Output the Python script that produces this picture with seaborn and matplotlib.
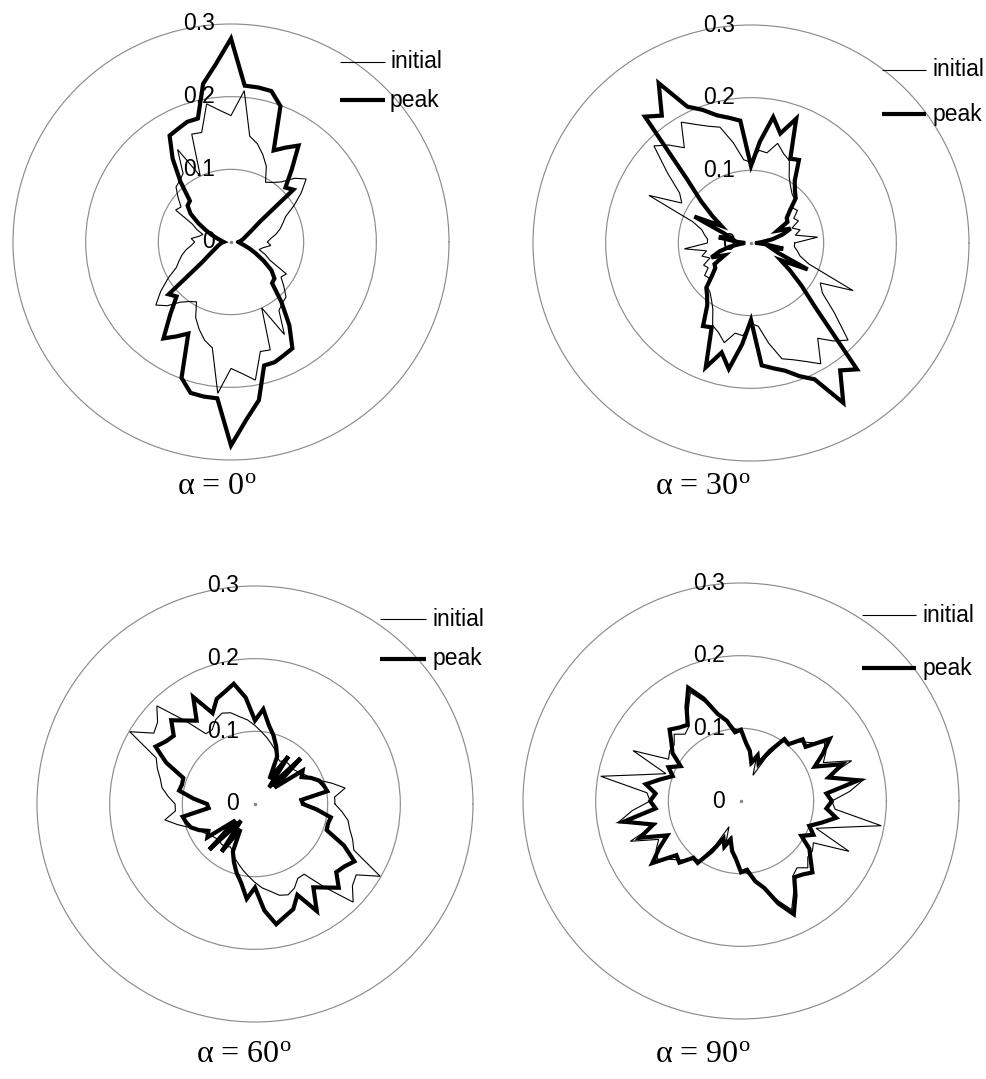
import numpy as np
import pandas as pd
import matplotlib
matplotlib.use("Agg")
import matplotlib.pyplot as plt
from matplotlib.lines import Line2D
import seaborn as sns

# Orientation distributions (axial data, 0..175 deg in 5 deg steps; the
# distribution repeats every 180 deg).
angles_half = list(range(0, 180, 5))

initial_00 = [.050, .055, .063, .070, .076, .083, .100, .118, .135, .124, .108, .100,
              .095, .115, .128, .140, .148, .209, .174, .182, .193, .156, .158, .100,
              .147, .115, .110, .107, .095, .084, .088, .059, .050, .040, .045, .055]
peak_00 = [.010, .013, .015, .018, .021, .026, .034, .048, .112, .106, .130, .162,
           .150, .139, .199, .215, .216, .216, .280, .245, .221, .176, .176, .172,
           .169, .140, .108, .080, .078, .068, .052, .038, .028, .020, .015, .012]

initial_30 = [.060, .092, .062, .070, .060, .072, .068, .078, .075, .085, .088, .095,
              .105, .125, .131, .142, .126, .128, .111, .115, .140, .165, .171, .180,
              .192, .160, .176, .189, .150, .120, .110, .155, .085, .070, .065, .060]
peak_30 = [.008, .015, .030, .045, .058, .040, .058, .060, .070, .087, .094, .105,
           .132, .128, .182, .156, .176, .140, .106, .169, .175, .182, .195, .207,
           .254, .214, .227, .125, .090, .065, .047, .086, .040, .030, .045, .020]

initial_60 = [.110, .110, .126, .110, .095, .085, .080, .075, .072, .070, .072, .072,
              .068, .072, .080, .086, .093, .100, .108, .116, .122, .130, .133, .128,
              .118, .118, .150, .191, .175, .170, .199, .150, .143, .135, .130, .120]
peak_60 = [.066, .064, .101, .098, .094, .085, .074, .080, .035, .089, .030, .080,
           .040, .072, .085, .098, .110, .131, .115, .147, .168, .160, .154, .138,
           .170, .140, .150, .163, .146, .150, .158, .135, .105, .104, .106, .085]

initial_90 = [.125, .150, .172, .120, .162, .125, .135, .140, .125, .115, .105, .100,
              .070, .039, .060, .050, .070, .082, .095, .100, .112, .125, .145, .165,
              .145, .125, .120, .130, .120, .120, .115, .164, .110, .140, .196, .130]
peak_90 = [.125, .118, .164, .125, .148, .112, .130, .149, .116, .120, .102, .104,
           .080, .057, .067, .055, .070, .080, .098, .095, .112, .124, .150, .172,
           .150, .128, .132, .139, .125, .115, .096, .110, .100, .115, .133, .118]

panel_titles = ["0", "30", "60", "90"]
series_names = ["initial", "peak"]
ring_values = [0.0, 0.1, 0.2, 0.3]
ring_labels = ["0", "0.1", "0.2", "0.3"]

panels = [(initial_00, peak_00), (initial_30, peak_30),
          (initial_60, peak_60), (initial_90, peak_90)]

# Layout in pixels (figure is 986 x 1079 at 100 dpi)
W, H = 986, 1079
R_PX = 218.0        # radius of the 0.3 ring
RMAX = 0.305
centers = [(231, 242), (751, 243), (255, 804), (741, 801)]
legend_pos = [  # x0, x1, y_initial, y_peak, x_text
    (340, 385, 62, 100, 390),
    (882, 926, 70, 114, 933),
    (380, 426, 619, 659, 433),
    (862, 916, 615, 668, 923),
]
caption_pos = [(217, 487), (703, 487), (244, 1054), (703, 1055)]

sns.set_theme(style="white")
plt.rcParams["font.family"] = ["Liberation Sans", "DejaVu Sans"]
plt.rcParams["mathtext.fontset"] = "custom"
plt.rcParams["mathtext.rm"] = "Liberation Serif"
plt.rcParams["mathtext.it"] = "Liberation Serif:italic"
plt.rcParams["lines.solid_joinstyle"] = "miter"

fig = plt.figure(figsize=(W / 100, H / 100), dpi=100)
fig.patch.set_facecolor("white")


def full_loop(half):
    """Extend a 0..175 deg axial distribution around the full circle."""
    theta = np.deg2rad(np.arange(0, 365, 5))
    r = np.array(list(half) + list(half) + [half[0]])
    return theta, r


box = 2 * R_PX * RMAX / 0.3
for i, (init, peak) in enumerate(panels):
    cx, cy = centers[i]
    ax = fig.add_axes([(cx - box / 2) / W, 1 - (cy + box / 2) / H, box / W, box / H],
                      projection="polar")
    frames = []
    for name, half in zip(series_names, (init, peak)):
        th, rr = full_loop(half)
        frames.append(pd.DataFrame({"theta": th, "r": rr, "series": name}))
    df = pd.concat(frames, ignore_index=True)

    sns.lineplot(data=df, x="theta", y="r", hue="series", size="series",
                 sizes={"initial": 0.8, "peak": 3.0},
                 palette={"initial": "black", "peak": "black"},
                 sort=False, estimator=None, legend=False, ax=ax)

    ax.set_ylim(0, RMAX)
    ax.set_rgrids([0.1, 0.2, 0.3], labels=["", "", ""])
    ax.set_thetagrids([])
    ax.grid(True, color="#8c8c8c", linewidth=0.85)
    ax.spines["polar"].set_visible(False)
    ax.set_facecolor("none")
    ax.set_xlabel("")
    ax.set_ylabel("")
    ax.plot([0], [0], marker="o", markersize=1.5, color="#888888")

    # radial value labels along the vertical axis
    for val, lab in zip(ring_values, ring_labels):
        ax.annotate(lab, xy=(np.pi / 2, val), xytext=(-16, 0),
                    textcoords="offset pixels", ha="right", va="center",
                    fontsize=16.5, color="black", annotation_clip=False)

    # legend keys
    x0, x1, yi, yp, xt = legend_pos[i]
    for y, lw, name in ((yi, 0.8, "initial"), (yp, 3.0, "peak")):
        fig.add_artist(Line2D([x0 / W, x1 / W], [1 - y / H, 1 - y / H],
                              transform=fig.transFigure, color="black",
                              linewidth=lw, solid_capstyle="butt"))
        fig.text(xt / W, 1 - y / H, name, ha="left", va="center",
                 fontsize=16.5, color="black")

    # panel caption
    px, py = caption_pos[i]
    fig.text(px / W, 1 - py / H, "\u03b1 = " + panel_titles[i] + r"$^{\mathrm{o}}$",
             ha="center", va="center", fontsize=23,
             family=["Liberation Serif", "DejaVu Serif"], color="black")

fig.savefig("out.png", dpi=100, facecolor="white")
